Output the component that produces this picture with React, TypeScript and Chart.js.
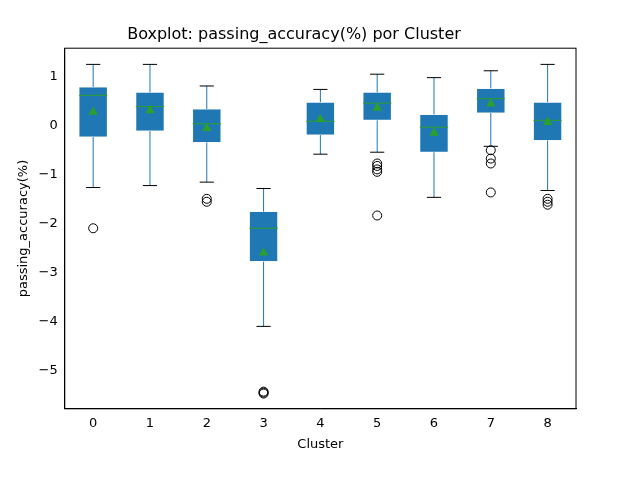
import React, { useEffect, useRef } from "react";
import { Chart, registerables } from "chart.js";
Chart.register(...registerables);

const clusters = ["0", "1", "2", "3", "4", "5", "6", "7", "8"];
const whiskerLow = [-1.27, -1.23, -1.16, -4.1, -0.59, -0.55, -1.47, -0.43, -1.33];
const q1 = [-0.24, -0.12, -0.35, -2.78, -0.2, 0.1, -0.55, 0.25, -0.31];
const medians = [0.61, 0.38, 0.03, -2.1, 0.08, 0.45, -0.04, 0.54, 0.1];
const q3 = [0.78, 0.67, 0.33, -1.76, 0.47, 0.67, 0.22, 0.75, 0.47];
const whiskerHigh = [1.24, 1.24, 0.8, -1.29, 0.73, 1.04, 0.97, 1.11, 1.24];
const means = [0.27, 0.3, -0.06, -2.6, 0.12, 0.35, -0.16, 0.44, 0.06];
const outliers: number[][] = [
  [-2.1],
  [],
  [-1.5, -1.56],
  [-5.43, -5.45, -5.47],
  [],
  [-0.78, -0.83, -0.9, -0.95, -1.84],
  [],
  [-0.51, -0.68, -0.78, -1.37],
  [-1.5, -1.56, -1.62],
];
const yTicks = [-5, -4, -3, -2, -1, 0, 1];

const whiskerPlugin = {
  id: "whiskers",
  afterDatasetsDraw(chart: any) {
    const { ctx, scales, chartArea } = chart;
    const x = scales.x, y = scales.y;
    const step = x.getPixelForValue(1) - x.getPixelForValue(0);
    const boxHalf = step * 0.25;
    const capHalf = step * 0.125;
    ctx.save();
    clusters.forEach((_, i) => {
      const cx = x.getPixelForValue(i);
      ctx.strokeStyle = "#1f77b4";
      ctx.lineWidth = 1;
      ctx.beginPath();
      ctx.moveTo(cx, y.getPixelForValue(q3[i]));
      ctx.lineTo(cx, y.getPixelForValue(whiskerHigh[i]));
      ctx.moveTo(cx, y.getPixelForValue(q1[i]));
      ctx.lineTo(cx, y.getPixelForValue(whiskerLow[i]));
      ctx.stroke();
      ctx.strokeStyle = "#000000";
      ctx.beginPath();
      const yh = y.getPixelForValue(whiskerHigh[i]);
      const yl = y.getPixelForValue(whiskerLow[i]);
      ctx.moveTo(cx - capHalf, yh);
      ctx.lineTo(cx + capHalf, yh);
      ctx.moveTo(cx - capHalf, yl);
      ctx.lineTo(cx + capHalf, yl);
      ctx.stroke();
      ctx.strokeStyle = "#2ca02c";
      ctx.beginPath();
      const ym = y.getPixelForValue(medians[i]);
      ctx.moveTo(cx - boxHalf, ym);
      ctx.lineTo(cx + boxHalf, ym);
      ctx.stroke();
    });
    ctx.strokeStyle = "#000";
    ctx.lineWidth = 1;
    ctx.strokeRect(chartArea.left, chartArea.top, chartArea.right - chartArea.left, chartArea.bottom - chartArea.top);
    ctx.restore();
  },
};

export default function App() {
  const ref = useRef<HTMLCanvasElement>(null);
  useEffect(() => {
    document.body.style.margin = "0";
    const outlierPts: { x: string; y: number }[] = [];
    outliers.forEach((arr, i) => arr.forEach((v) => outlierPts.push({ x: clusters[i], y: v })));
    const chart = new Chart(ref.current!, {
      type: "bar",
      data: {
        labels: clusters,
        datasets: [
          {
            type: "bar",
            data: clusters.map((_, i) => [q1[i], q3[i]]),
            backgroundColor: "#1f77b4",
            borderColor: "#dbe7f2",
            borderWidth: 0.5,
            borderSkipped: false,
            categoryPercentage: 1,
            barPercentage: 0.5,
            order: 3,
          } as any,
          {
            type: "scatter",
            data: clusters.map((c, i) => ({ x: c, y: means[i] })),
            pointStyle: "triangle",
            pointRadius: 5.5,
            backgroundColor: "#2ca02c",
            borderColor: "#2ca02c",
            borderWidth: 0,
            order: 1,
          } as any,
          {
            type: "scatter",
            data: outlierPts,
            pointStyle: "circle",
            pointRadius: 4.5,
            backgroundColor: "rgba(0,0,0,0)",
            borderColor: "#000000",
            borderWidth: 1,
            order: 2,
          } as any,
        ],
      },
      options: {
        animation: false,
        responsive: false,
        layout: { padding: { left: 12, right: 64, top: 4, bottom: 26 } },
        plugins: {
          legend: { display: false },
          tooltip: { enabled: false },
          title: {
            display: true,
            text: "Boxplot: passing_accuracy(%) por Cluster",
            color: "#000",
            font: { family: "DejaVu Sans", size: 16, weight: "normal" },
            padding: { top: 21, bottom: 4 },
          },
        },
        scales: {
          x: {
            type: "category",
            offset: true,
            grid: { display: false, drawTicks: true, tickLength: 4, color: "#000" } as any,
            border: { color: "#000" },
            ticks: { color: "#000", font: { family: "DejaVu Sans", size: 13 } },
            title: { display: true, text: "Cluster", color: "#000", font: { family: "DejaVu Sans", size: 13 }, padding: 2 },
          },
          y: {
            min: -5.78,
            max: 1.57,
            afterBuildTicks: (s: any) => { s.ticks = yTicks.map((v) => ({ value: v })); },
            grid: { display: false, drawTicks: true, tickLength: 4, color: "#000" } as any,
            border: { color: "#000" },
            ticks: {
              color: "#000",
              font: { family: "DejaVu Sans", size: 13 },
              callback: (v: any) => String(v).replace("-", "\u2212"),
            },
            title: { display: true, text: "passing_accuracy(%)", color: "#000", font: { family: "DejaVu Sans", size: 13 }, padding: 4 },
          },
        },
      },
      plugins: [whiskerPlugin],
    });
    return () => chart.destroy();
  }, []);
  return <canvas ref={ref} width={640} height={480} style={{ display: "block" }} />;
}
